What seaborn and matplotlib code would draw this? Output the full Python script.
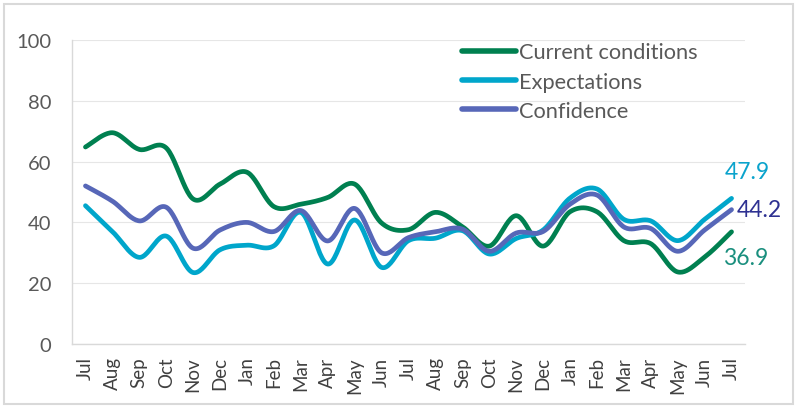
import numpy as np
import pandas as pd
import matplotlib
matplotlib.use("Agg")
import matplotlib.pyplot as plt
import seaborn as sns

months = ["Jul", "Aug", "Sep", "Oct", "Nov", "Dec", "Jan", "Feb", "Mar", "Apr", "May", "Jun",
          "Jul", "Aug", "Sep", "Oct", "Nov", "Dec", "Jan", "Feb", "Mar", "Apr", "May", "Jun", "Jul"]
current = [64.8, 69.5, 64.0, 64.5, 47.7, 52.6, 56.5, 45.2, 46.0, 48.2, 52.6, 39.8,
           37.6, 43.3, 38.6, 32.2, 42.2, 32.2, 43.5, 43.5, 34.0, 33.0, 23.7, 28.6, 36.9]
expectations = [45.5, 37.0, 28.5, 35.5, 23.5, 31.0, 32.5, 32.3, 43.3, 26.3, 40.8, 25.2,
                34.0, 34.8, 37.3, 29.6, 34.7, 37.5, 48.0, 51.0, 41.0, 40.5, 34.0, 41.0, 47.9]
confidence = [52.0, 47.0, 40.5, 45.0, 31.5, 37.5, 40.0, 37.0, 43.9, 33.9, 44.6, 30.0,
              35.0, 36.9, 37.8, 30.5, 36.5, 37.0, 46.0, 49.0, 38.5, 38.0, 30.5, 37.5, 44.2]
series_names = ["Current conditions", "Expectations", "Confidence"]
yticks = [0, 20, 40, 60, 80, 100]

colors = {"Current conditions": "#008050", "Expectations": "#00a6cb", "Confidence": "#5767b8"}
label_colors = {"Current conditions": "#1a8f7e", "Expectations": "#0aa3cc", "Confidence": "#2e3192"}


def smooth(x, y, n=24):
    """Excel-style smoothed rendering (Catmull-Rom Bezier) of a series for display."""
    x = np.asarray(x, float)
    y = np.asarray(y, float)
    px = np.concatenate([[x[0]], x, [x[-1]]])
    py = np.concatenate([[y[0]], y, [y[-1]]])
    xs, ys = [], []
    for i in range(1, len(px) - 2):
        p0 = np.array([px[i - 1], py[i - 1]])
        p1 = np.array([px[i], py[i]])
        p2 = np.array([px[i + 1], py[i + 1]])
        p3 = np.array([px[i + 2], py[i + 2]])
        c1 = p1 + (p2 - p0) / 6.0
        c2 = p2 - (p3 - p1) / 6.0
        t = np.linspace(0, 1, n, endpoint=(i == len(px) - 3))
        pts = ((1 - t) ** 3)[:, None] * p1 + (3 * (1 - t) ** 2 * t)[:, None] * c1 \
            + (3 * (1 - t) * t ** 2)[:, None] * c2 + (t ** 3)[:, None] * p2
        xs.append(pts[:, 0])
        ys.append(pts[:, 1])
    return np.concatenate(xs), np.concatenate(ys)


sns.set_theme(style="white")
plt.rcParams["font.family"] = ["Lato", "DejaVu Sans"]

fig = plt.figure(figsize=(8.0, 4.1), dpi=100)
ax = fig.add_axes([72 / 800, 1 - 345 / 410, (745 - 72) / 800, (345 - 41) / 410])

idx = np.arange(len(months))
frames = []
for name, vals in zip(series_names, [current, expectations, confidence]):
    sx, sy = smooth(idx, vals)
    frames.append(pd.DataFrame({"x": sx, "value": sy, "series": name}))
df = pd.concat(frames, ignore_index=True)

sns.lineplot(data=df, x="x", y="value", hue="series", hue_order=series_names,
             palette=colors, linewidth=3.4, ax=ax, sort=False, estimator=None,
             legend=True, solid_capstyle="round")

ax.set_xlim(-0.5, len(months) - 0.5)
ax.set_ylim(0, 100)
ax.set_xticks(idx)
ax.set_xticklabels(months, rotation=90, fontsize=13.5, color="#404040")
ax.set_yticks(yticks)
ax.set_yticklabels([str(v) for v in yticks], fontsize=14.5, color="#595959")
ax.tick_params(axis="x", length=0, pad=9)
ax.tick_params(axis="y", length=0, pad=15)
ax.set_xlabel("")
ax.set_ylabel("")
ax.grid(axis="y", color="#e6e6e6", linewidth=0.8)
ax.grid(axis="x", visible=False)
for s in ["top", "right"]:
    ax.spines[s].set_visible(False)
for s in ["left", "bottom"]:
    ax.spines[s].set_color("#d9d9d9")
    ax.spines[s].set_linewidth(1.0)

leg = ax.legend(loc="upper left", bbox_to_anchor=((453 - 72) / 673, 1.021), frameon=False,
                fontsize=15.7, handlelength=2.5, handletextpad=0.12, labelspacing=0.43,
                borderaxespad=0)
for t in leg.get_texts():
    t.set_color("#595959")
for h in leg.get_lines():
    h.set_linewidth(4)

last = len(months) - 1
end_vals = {"Expectations": (expectations[-1], -0.26, 9.0),
            "Confidence": (confidence[-1], 0.19, 0),
            "Current conditions": (current[-1], -0.33, -8.6)}
for name, (v, dx, dy) in end_vals.items():
    ax.text(last + dx, v + dy, f"{v:.1f}", color=label_colors[name], fontsize=16.5,
            va="center", ha="left", clip_on=False)

fig.patches.append(plt.Rectangle((4 / 800, 5 / 410), 789 / 800, 400 / 410,
                                 transform=fig.transFigure, fill=False,
                                 edgecolor="#d9d9d9", linewidth=1.5))

fig.savefig("out.png", dpi=100)
